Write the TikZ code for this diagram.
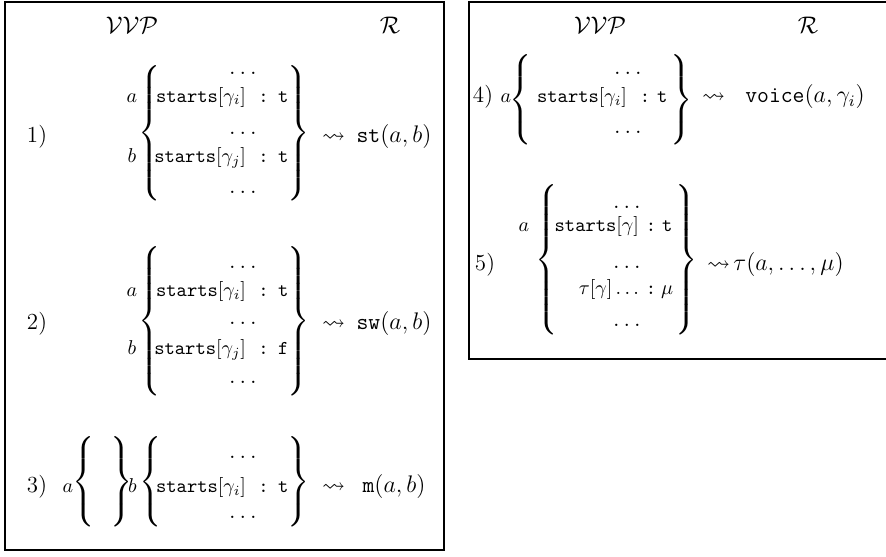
\documentclass[tikz,border=0pt]{standalone}
\usepackage{amsmath,amssymb}
% an extensible brace of a given total height, centred on the math axis
\newcommand\openbr[1]{$\nulldelimiterspace=0pt\delimitershortfall=0pt\delimiterfactor=1000\left\{\vcenter{\hrule height #1 width 0pt}\right.$}
\newcommand\closebr[1]{$\nulldelimiterspace=0pt\delimitershortfall=0pt\delimiterfactor=1000\left.\vcenter{\hrule height #1 width 0pt}\right\}$}
\newcommand\kw[1]{\texttt{#1}}
\begin{document}
\begin{tikzpicture}[x=0.5pt,y=-0.5pt,
  every node/.style={inner sep=0pt,outer sep=0pt},
  big/.style={font=\fontsize{11.5}{14}\selectfont},
  small/.style={font=\fontsize{9.8}{12}\selectfont},
  brace/.style={font=\fontsize{12.5}{14}\selectfont},
  frame/.style={line width=1pt},
  lab/.style={small,anchor=base},
  key/.style={small,anchor=base east},
  col/.style={small,anchor=base},
  val/.style={small,anchor=base west},
  dots/.style={big,anchor=base},
  main/.style={big,anchor=base},
]
\useasboundingbox (0,0) rectangle (886,556);
\clip (0,0) rectangle (886,556);

% frames
\draw[frame] (5,2) rectangle (444,550);
\draw[frame] (469,2) rectangle (900,359);

% ---------------- left panel ----------------
\node[main] (hv1) at (132,34) {$\mathcal{V}\mathcal{V}\mathcal{P}$};
\node[main] (hr1) at (390,34) {$\mathcal{R}$};

% rule 1
\node[main] (n1) at (37,142) {1)};
\node[lab] (a1) at (132,102) {$a$};
\node[lab] (b1) at (132,162) {$b$};
\node[brace] (lb1) at (149.5,133) {\openbr{67.5pt}};
\node[dots] (d11) at (243,75) {$\ldots$};
\node[key] (k11) at (246,102) {\kw{starts}$[\gamma_i]$};
\node[col] (c11) at (263.5,102) {\kw{:}};
\node[val] (v11) at (278,102) {\kw{t}};
\node[dots] (d12) at (243,134) {$\ldots$};
\node[key] (k12) at (246,162) {\kw{starts}$[\gamma_j]$};
\node[col] (c12) at (263.5,162) {\kw{:}};
\node[val] (v12) at (278,162) {\kw{t}};
\node[dots] (d13) at (243,193) {$\ldots$};
\node[brace] (rb1) at (299,133) {\closebr{67.5pt}};
\node[main] (to1) at (333.5,142) {$\leadsto$};
\node[main] (res1) at (394,142) {\kw{st}$(a,b)$};

% rule 2
\node[main] (n2) at (37,329) {2)};
\node[lab] (a2) at (132,296) {$a$};
\node[lab] (b2) at (132,354) {$b$};
\node[brace] (lb2) at (149.5,321) {\openbr{69pt}};
\node[dots] (d21) at (243,268) {$\ldots$};
\node[key] (k21) at (246,296) {\kw{starts}$[\gamma_i]$};
\node[col] (c21) at (263.5,296) {\kw{:}};
\node[val] (v21) at (278,296) {\kw{t}};
\node[dots] (d22) at (243,324) {$\ldots$};
\node[key] (k22) at (246,354) {\kw{starts}$[\gamma_j]$};
\node[col] (c22) at (263.5,354) {\kw{:}};
\node[val] (v22) at (278,354) {\kw{f}};
\node[dots] (d23) at (243,383) {$\ldots$};
\node[brace] (rb2) at (299,321) {\closebr{69pt}};
\node[main] (to2) at (333.5,329) {$\leadsto$};
\node[main] (res2) at (394,329) {\kw{sw}$(a,b)$};

% rule 3
\node[main] (n3) at (37,492) {3)};
\node[lab] (a3) at (68,492) {$a$};
\node[brace] (lb3a) at (84,481.5) {\openbr{43.5pt}};
\node[brace] (rb3a) at (121.5,481.5) {\closebr{43.5pt}};
\node[lab] (b3) at (132.5,492) {$b$};
\node[brace] (lb3) at (151,481.5) {\openbr{43.5pt}};
\node[dots] (d31) at (243,458) {$\ldots$};
\node[key] (k31) at (246,492) {\kw{starts}$[\gamma_i]$};
\node[col] (c31) at (263.5,492) {\kw{:}};
\node[val] (v31) at (278,492) {\kw{t}};
\node[dots] (d32) at (243,518) {$\ldots$};
\node[brace] (rb3) at (299,481.5) {\closebr{43.5pt}};
\node[main] (to3) at (333.5,492) {$\leadsto$};
\node[main] (res3) at (394,492) {\kw{m}$(a,b)$};

% ---------------- right panel ----------------
\node[main] (hv2) at (600,34) {$\mathcal{V}\mathcal{V}\mathcal{P}$};
\node[main] (hr2) at (808,34) {$\mathcal{R}$};

% rule 4
\node[main] (n4) at (483,103) {4)};
\node[lab] (a4) at (506,103) {$a$};
\node[brace] (lb4) at (521,99.5) {\openbr{42.5pt}};
\node[dots] (d41) at (628,75) {$\ldots$};
\node[key] (k41) at (627,103) {\kw{starts}$[\gamma_i]$};
\node[col] (c41) at (645,103) {\kw{:}};
\node[val] (v41) at (657,103) {\kw{t}};
\node[dots] (d42) at (628,133) {$\ldots$};
\node[brace] (rb4) at (682,99.5) {\closebr{42.5pt}};
\node[main] (to4) at (713.5,103) {$\leadsto$};
\node[main] (res4) at (805,103) {\kw{voice}$(a,\gamma_i)$};

% rule 5
\node[main] (n5) at (485,270) {5)};
\node[lab] (a5) at (524,231) {$a$};
\node[brace] (lb5) at (546.5,259.5) {\openbr{73.5pt}};
\node[dots] (d51) at (627,208) {$\ldots$};
\node[key] (k51) at (639,231) {\kw{starts}$[\gamma]$};
\node[col] (c51) at (651,231) {\kw{:}};
\node[val] (v51) at (662,231) {\kw{t}};
\node[dots] (d52) at (627,268) {$\ldots$};
\node[key] (k52) at (639,294) {$\tau[\gamma]\ldots$};
\node[col] (c52) at (651,294) {\kw{:}};
\node[val] (v52) at (661,294) {$\mu$};
\node[dots] (d53) at (627,326) {$\ldots$};
\node[brace] (rb5) at (686.5,259.5) {\closebr{73.5pt}};
\node[main] (to5) at (718.5,270) {$\leadsto$};
\node[main] (res5) at (788.5,270) {$\tau(a,\ldots,\mu)$};
\end{tikzpicture}
\end{document}
